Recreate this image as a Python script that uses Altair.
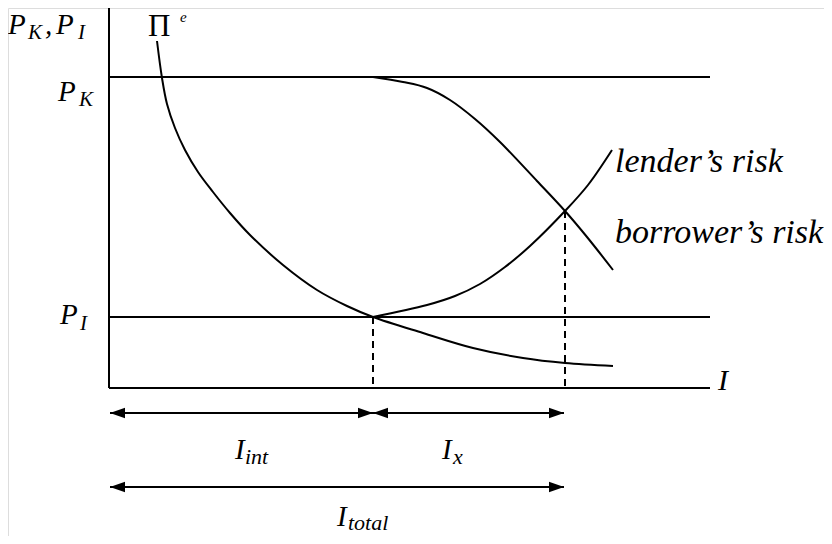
import altair as alt
import pandas as pd

# Reference frame: origin at axis intersection, units ~ pixels (y up)
OX, OY = 109, 388

# Curves
pi_px = [157, 162, 167, 175, 185, 198, 213, 230, 250, 283, 317, 347, 373, 423, 473, 523, 565, 613]
pi_py = [41, 78, 104, 128, 150, 172, 192, 213, 235, 265, 290, 306, 317, 333, 348, 358, 363, 366]
bor_px = [373, 403, 427, 450, 475, 500, 537, 565, 587, 613]
bor_py = [77, 82, 88, 100, 119, 142, 181, 211, 237, 270]
len_px = [373, 427, 455, 480, 505, 530, 565, 588, 612]
len_py = [317, 305, 296, 284, 267, 246, 211, 185, 150]

# Straight lines: x, y, x2, y2
line_x1 = [109, 109, 109, 109]
line_y1 = [5, 388, 77, 317]
line_x2 = [109, 710, 710, 710]
line_y2 = [388, 388, 77, 317]

# Dashed drop lines
dash_x = [373, 565]
dash_top = [317, 211]

# Double arrows: x1, x2, y
arr_x1 = [110, 373, 110]
arr_x2 = [373, 564, 564]
arr_y = [413, 413, 487]

# Labels
lab_text = ["P", "K", ",", "P", "I", "Π", "e", "P", "K", "P", "I",
            "lender’s risk", "borrower’s risk", "I",
            "I", "int", "I", "x", "I", "total"]
lab_px = [8, 28, 45, 56, 78, 148, 180, 58, 79, 60, 80,
          615, 615, 718,
          235, 245, 442, 453, 337, 348]
lab_py = [34, 39, 34, 34, 39, 36, 22, 101, 106, 324, 330,
          172, 243, 390,
          459, 464, 459, 464, 526, 530]
lab_size = [29, 21, 29, 29, 21, 31, 15, 29, 21, 29, 21,
            34, 34, 30,
            29, 22, 29, 22, 29, 22]
lab_style = ["italic"] * 5 + ["normal"] + ["italic"] * 14

FONT = "Liberation Serif, Times New Roman, Times, serif"

def curve_df(xs, ys, name):
    return pd.DataFrame({"x": [a - OX for a in xs], "y": [OY - b for b in ys],
                         "i": list(range(len(xs))), "c": name})

curves = pd.concat([curve_df(pi_px, pi_py, "pi"),
                    curve_df(bor_px, bor_py, "bor"),
                    curve_df(len_px, len_py, "len")])

xs = alt.Scale(domain=[8 - OX, 824 - OX], nice=False, zero=False)
ys = alt.Scale(domain=[OY - 536, OY - 8], nice=False, zero=False)
X = lambda f: alt.X(f, type="quantitative", scale=xs, axis=None)
Y = lambda f: alt.Y(f, type="quantitative", scale=ys, axis=None)

lines_df = pd.DataFrame({"x": [a - OX for a in line_x1], "y": [OY - b for b in line_y1],
                         "x2": [a - OX for a in line_x2], "y2": [OY - b for b in line_y2]})
rules = alt.Chart(lines_df).mark_rule(strokeWidth=2, color="black").encode(
    x=X("x"), y=Y("y"), x2="x2", y2="y2")

dash_df = pd.DataFrame({"x": [a - OX for a in dash_x], "y": [OY - b for b in dash_top],
                        "y2": [0] * len(dash_x)})
dashes = alt.Chart(dash_df).mark_rule(strokeWidth=2, color="black", strokeDash=[7, 5]).encode(
    x=X("x"), y=Y("y"), y2="y2")

curve_layer = alt.Chart(curves).mark_line(strokeWidth=2, color="black", interpolate="catmull-rom").encode(
    x=X("x"), y=Y("y"), detail="c:N", order="i:Q")

arr_df = pd.DataFrame({"x": [a - OX for a in arr_x1], "x2": [a - OX for a in arr_x2],
                       "y": [OY - b for b in arr_y]})
arr_lines = alt.Chart(arr_df).mark_rule(strokeWidth=2, color="black").encode(
    x=X("x"), x2="x2", y=Y("y"))
right_head = "M 0 0 L -2 -0.7 L -2 0.7 Z"
left_head = "M 0 0 L 2 -0.7 L 2 0.7 Z"
heads_r = alt.Chart(arr_df).mark_point(shape=right_head, size=225, filled=True, color="black", opacity=1).encode(
    x=X("x2"), y=Y("y"))
heads_l = alt.Chart(arr_df).mark_point(shape=left_head, size=225, filled=True, color="black", opacity=1).encode(
    x=X("x"), y=Y("y"))

lab_df = pd.DataFrame({"t": lab_text, "x": [a - OX for a in lab_px], "y": [OY - b for b in lab_py],
                       "s": lab_size, "st": lab_style})
labels_it = alt.Chart(lab_df[lab_df.st == "italic"]).mark_text(
    font=FONT, fontStyle="italic", align="left", baseline="alphabetic", color="black").encode(
    x=X("x"), y=Y("y"), text="t:N", size=alt.Size("s:Q", scale=None, legend=None))
labels_up = alt.Chart(lab_df[lab_df.st == "normal"]).mark_text(
    font=FONT, align="left", baseline="alphabetic", color="black").encode(
    x=X("x"), y=Y("y"), text="t:N", size=alt.Size("s:Q", scale=None, legend=None))

chart = alt.layer(rules, dashes, curve_layer, arr_lines, heads_r, heads_l, labels_it, labels_up).properties(
    width=816, height=528, padding=0, autosize=alt.AutoSizeParams(type="none")
).configure_view(stroke=None).configure(background="white", font=FONT)

chart.save("out.html", embed_options={"renderer": "svg", "actions": False})
